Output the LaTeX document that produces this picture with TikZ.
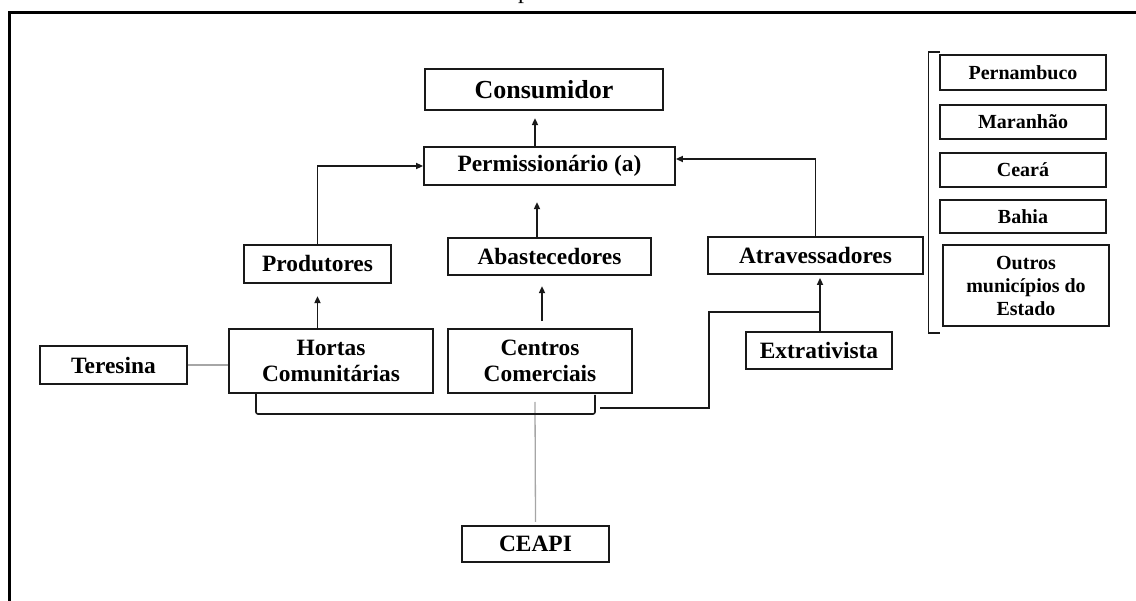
\documentclass[tikz,border=0pt]{standalone}
\usepackage{fontspec}
\setmainfont{Liberation Serif}
\usetikzlibrary{arrows.meta}
\tikzset{
  box/.style={draw=black!90, line width=1.8pt, inner sep=0pt, align=center,
    font=\bfseries\fontsize{23.4}{26.5}\selectfont},
  sbox/.style={box, font=\bfseries\fontsize{20}{23}\selectfont},
  conn/.style={draw=black!90, line width=1.6pt},
  arr/.style={conn, -{Triangle[length=7pt,width=6pt]}},
  gline/.style={draw=black!35, line width=1.3pt},
}
\begin{document}
\begin{tikzpicture}[x=1pt,y=-1pt]
\useasboundingbox (0,0) rectangle (1136,601);
\clip (0,0) rectangle (1136,601);
% outer frame (partially visible)
\draw[line width=2.6pt] (9.5,700) -- (9.5,12.3) -- (1200,12.3);
\node[anchor=base west, inner sep=0pt, font=\fontsize{24}{24}\selectfont] (ptxt) at (518,-1) {p};

% main nodes
\node[box, minimum width=238pt, minimum height=41pt, font=\bfseries\fontsize{26}{28}\selectfont] (cons) at (544,89.5) {Consumidor};
\node[box, minimum width=251pt, minimum height=38pt] (perm) at (549.5,166) {Permissionário (a)};
\node[box, minimum width=147pt, minimum height=38pt] (prod) at (317.5,264) {Produtores};
\node[box, minimum width=203pt, minimum height=37pt] (abas) at (549.5,256.5) {Abastecedores};
\node[box, minimum width=215pt, minimum height=37pt] (atra) at (815.5,255.5) {Atravessadores};
\node[box, minimum width=147pt, minimum height=38pt] (ter) at (113.5,365) {Teresina};
\node[box, minimum width=204pt, minimum height=64pt] (hort) at (331,361) {Hortas\\Comunitárias};
\node[box, minimum width=184pt, minimum height=64pt] (cent) at (540,361) {Centros\\Comerciais};
\node[box, minimum width=146pt, minimum height=37pt] (extr) at (819,350.5) {Extrativista};
\node[box, minimum width=147pt, minimum height=36.5pt] (ceapi) at (535.5,544) {CEAPI};

% right column
\node[sbox, minimum width=166pt, minimum height=35pt] (pern) at (1023,72.5) {Pernambuco};
\node[sbox, minimum width=166pt, minimum height=34pt] (mara) at (1023,122) {Maranhão};
\node[sbox, minimum width=166pt, minimum height=34pt] (cear) at (1023,170) {Ceará};
\node[sbox, minimum width=166pt, minimum height=33pt] (bahi) at (1023,216.5) {Bahia};
\node[sbox, minimum width=166pt, minimum height=81pt] (outr) at (1026,285.5) {Outros\\municípios do\\Estado};
\draw[conn, line width=1.4pt] (940,52) -- (928.5,52) -- (928.5,333) -- (940,333);

% arrows
\draw[arr] ([xshift=-14.5pt]perm.north) -- ++(0,-28);
\draw[arr] ([xshift=-12.5pt]abas.north) -- ++(0,-35);
\draw[arr] ([xshift=-13.5pt]hort.north) -- ++(0,-32);
\draw[arr] ([xshift=2pt,yshift=7pt]cent.north) -- ++(0,-35);
\draw[arr] ([xshift=1pt]extr.north) -- ([xshift=4.5pt,yshift=-3pt]atra.south);
\draw[arr] (prod.north) |- (perm.west);
\draw[arr] (atra.north) |- ([yshift=7pt]perm.east);

% gray links
\draw[gline] (ter.east) -- (ter.east -| hort.west);
\coordinate (g1) at (535,402);
\draw[gline] (g1) -- ([yshift=3pt]ceapi.north);

% bracket under Hortas / Centros
\coordinate (bl) at (256,393);
\coordinate (br) at (595,395);
\draw[conn, rounded corners=2pt] (bl) -- (256,414) -- (595,414) -- (br);

% link from bracket to Atravessadores
\coordinate (c1) at (600,408);
\coordinate (c2) at (820,312);
\draw[conn] (c1) -- (709,408) -- (709,312) -- (c2);
\end{tikzpicture}
\end{document}
